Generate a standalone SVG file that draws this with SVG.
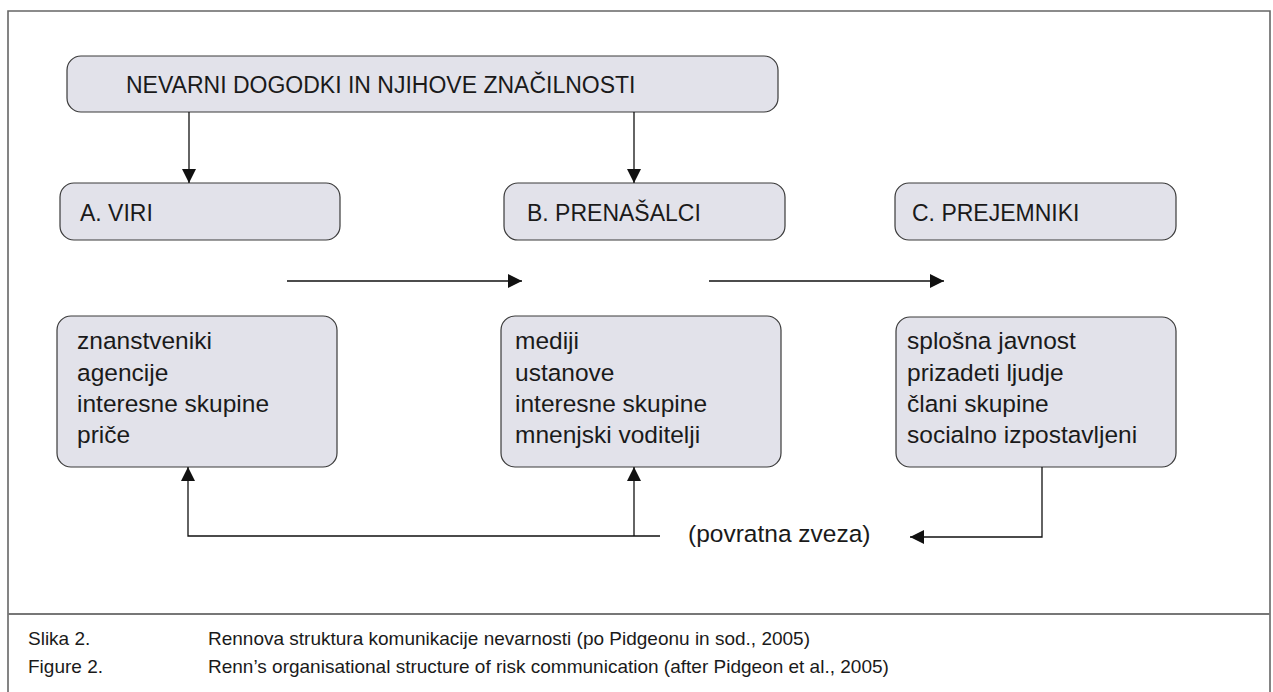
<svg xmlns="http://www.w3.org/2000/svg" width="1273" height="692" viewBox="0 0 1273 692">
<defs>
<style>
.box{fill:#e2e2ea;stroke:#3a3a3a;stroke-width:1.2}
.t{font-family:"Liberation Sans",Arial,sans-serif;font-size:23px;fill:#1a1a1a}
.b{font-family:"Liberation Sans",Arial,sans-serif;font-size:24.5px;fill:#1a1a1a}
.c{font-family:"Liberation Sans",Arial,sans-serif;font-size:19px;fill:#1a1a1a}
.ln{fill:none;stroke:#111;stroke-width:1.3}
.frame{fill:none;stroke:#666;stroke-width:1.6}
</style>
<marker id="ah" viewBox="0 0 10 10" refX="10" refY="5" markerWidth="14" markerHeight="14" markerUnits="userSpaceOnUse" orient="auto">
<path d="M0,0 L10,5 L0,10 z" fill="#111"/>
</marker>
</defs>
<rect width="1273" height="692" fill="#fff"/>
<g id="frame">
<path class="frame" d="M8,692 V11 H1270 V692"/>
<line x1="8" y1="614" x2="1270" y2="614" stroke="#777" stroke-width="2"/>
</g>
<g id="top">
<rect class="box" x="67" y="56" width="711" height="56" rx="14"/>
<text class="t" x="126" y="93">NEVARNI DOGODKI IN NJIHOVE ZNAČILNOSTI</text>
</g>
<g id="a-head">
<rect class="box" x="60" y="183" width="280" height="57" rx="14"/>
<text class="t" x="80" y="221">A. VIRI</text>
</g>
<g id="b-head">
<rect class="box" x="504" y="183" width="281" height="57" rx="14"/>
<text class="t" x="527" y="221">B. PRENAŠALCI</text>
</g>
<g id="c-head">
<rect class="box" x="895" y="183" width="281" height="57" rx="14"/>
<text class="t" x="912" y="221">C. PREJEMNIKI</text>
</g>
<g id="a-list">
<rect class="box" x="57" y="316" width="280" height="151" rx="14"/>
<text class="b" x="77" y="349">znanstveniki</text>
<text class="b" x="77" y="381">agencije</text>
<text class="b" x="77" y="412">interesne skupine</text>
<text class="b" x="77" y="443">priče</text>
</g>
<g id="b-list">
<rect class="box" x="501" y="316" width="280" height="151" rx="14"/>
<text class="b" x="515" y="349">mediji</text>
<text class="b" x="515" y="381">ustanove</text>
<text class="b" x="515" y="412">interesne skupine</text>
<text class="b" x="515" y="443">mnenjski voditelji</text>
</g>
<g id="c-list">
<rect class="box" x="896" y="317" width="280" height="150" rx="14"/>
<text class="b" x="907" y="349">splošna javnost</text>
<text class="b" x="907" y="381">prizadeti ljudje</text>
<text class="b" x="907" y="412">člani skupine</text>
<text class="b" x="907" y="443">socialno izpostavljeni</text>
</g>
<g id="feedback-label">
<text class="b" x="688" y="542">(povratna zveza)</text>
</g>
<g id="connectors">
<line class="ln" x1="189" y1="112" x2="189" y2="183" marker-end="url(#ah)"/>
<line class="ln" x1="634" y1="112" x2="634" y2="183" marker-end="url(#ah)"/>
<line class="ln" x1="287" y1="281" x2="522" y2="281" marker-end="url(#ah)"/>
<line class="ln" x1="709" y1="281" x2="944" y2="281" marker-end="url(#ah)"/>
<path class="ln" d="M660,536 H188 V467" marker-end="url(#ah)"/>
<line class="ln" x1="634" y1="536" x2="634" y2="467" marker-end="url(#ah)"/>
<path class="ln" d="M1042,467 V537 H910" marker-end="url(#ah)"/>
</g>
<g id="caption">
<text class="c" x="28" y="645">Slika 2.</text>
<text class="c" x="208" y="645">Rennova struktura komunikacije nevarnosti (po Pidgeonu in sod., 2005)</text>
<text class="c" x="28" y="673">Figure 2.</text>
<text class="c" x="208" y="673">Renn’s organisational structure of risk communication (after Pidgeon et al., 2005)</text>
</g>
</svg>
